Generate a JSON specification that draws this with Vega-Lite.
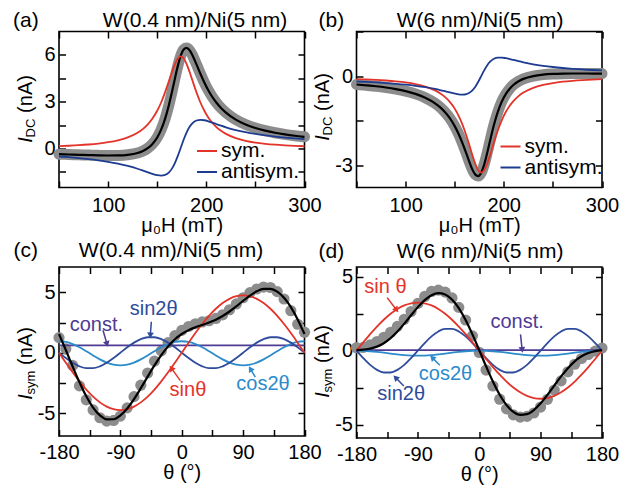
{
  "$schema": "https://vega.github.io/schema/vega-lite/v6.json",
  "background": "white",
  "padding": {"left": 12, "top": 8.5, "right": 0, "bottom": 0},
  "columns": 2,
  "spacing": {"row": 79.5, "column": 51.5},
  "bounds": "flush",
  "resolve": {"scale": {"color": "independent"}, "legend": {"color": "independent"}},
  "datasets": {
    "a": [
      {"H":50,"sym":0.15,"antisym":-0.513,"total":-0.363},
      {"H":60,"sym":0.176,"antisym":-0.559,"total":-0.383},
      {"H":70,"sym":0.21,"antisym":-0.614,"total":-0.404},
      {"H":80,"sym":0.256,"antisym":-0.679,"total":-0.423},
      {"H":90,"sym":0.317,"antisym":-0.757,"total":-0.44},
      {"H":100,"sym":0.402,"antisym":-0.852,"total":-0.45},
      {"H":110,"sym":0.525,"antisym":-0.969,"total":-0.444},
      {"H":120,"sym":0.712,"antisym":-1.116,"total":-0.404},
      {"H":130,"sym":1.01,"antisym":-1.299,"total":-0.289},
      {"H":135,"sym":1.229,"antisym":-1.404,"total":-0.175},
      {"H":140,"sym":1.517,"antisym":-1.515,"total":0.002},
      {"H":145,"sym":1.902,"antisym":-1.623,"total":0.279},
      {"H":150,"sym":2.418,"antisym":-1.711,"total":0.707},
      {"H":154,"sym":2.95,"antisym":-1.74,"total":1.21},
      {"H":158,"sym":3.598,"antisym":-1.696,"total":1.902},
      {"H":162,"sym":4.338,"antisym":-1.529,"total":2.809},
      {"H":165,"sym":4.906,"antisym":-1.29,"total":3.616},
      {"H":168,"sym":5.413,"antisym":-0.935,"total":4.478},
      {"H":171,"sym":5.77,"antisym":-0.475,"total":5.295},
      {"H":174,"sym":5.9,"antisym":0.05,"total":5.95},
      {"H":177,"sym":5.77,"antisym":0.575,"total":6.345},
      {"H":180,"sym":5.413,"antisym":1.035,"total":6.448},
      {"H":183,"sym":4.906,"antisym":1.39,"total":6.296},
      {"H":186,"sym":4.338,"antisym":1.629,"total":5.967},
      {"H":190,"sym":3.598,"antisym":1.796,"total":5.394},
      {"H":194,"sym":2.95,"antisym":1.84,"total":4.79},
      {"H":198,"sym":2.418,"antisym":1.811,"total":4.229},
      {"H":202,"sym":1.993,"antisym":1.743,"total":3.736},
      {"H":206,"sym":1.657,"antisym":1.659,"total":3.316},
      {"H":210,"sym":1.392,"antisym":1.57,"total":2.962},
      {"H":215,"sym":1.134,"antisym":1.461,"total":2.595},
      {"H":220,"sym":0.938,"antisym":1.359,"total":2.297},
      {"H":230,"sym":0.667,"antisym":1.184,"total":1.851},
      {"H":240,"sym":0.496,"antisym":1.044,"total":1.54},
      {"H":250,"sym":0.382,"antisym":0.931,"total":1.313},
      {"H":260,"sym":0.303,"antisym":0.84,"total":1.143},
      {"H":270,"sym":0.245,"antisym":0.765,"total":1.01},
      {"H":280,"sym":0.203,"antisym":0.702,"total":0.905},
      {"H":290,"sym":0.17,"antisym":0.649,"total":0.819},
      {"H":300,"sym":0.145,"antisym":0.604,"total":0.749}
    ],
    "b": [
      {"H":50,"sym":-0.1,"antisym":-0.183,"total":-0.283},
      {"H":60,"sym":-0.113,"antisym":-0.198,"total":-0.311},
      {"H":70,"sym":-0.128,"antisym":-0.215,"total":-0.343},
      {"H":80,"sym":-0.149,"antisym":-0.236,"total":-0.385},
      {"H":90,"sym":-0.177,"antisym":-0.261,"total":-0.438},
      {"H":100,"sym":-0.215,"antisym":-0.291,"total":-0.506},
      {"H":110,"sym":-0.27,"antisym":-0.328,"total":-0.598},
      {"H":120,"sym":-0.352,"antisym":-0.375,"total":-0.727},
      {"H":130,"sym":-0.482,"antisym":-0.434,"total":-0.916},
      {"H":135,"sym":-0.577,"antisym":-0.469,"total":-1.046},
      {"H":140,"sym":-0.702,"antisym":-0.508,"total":-1.21},
      {"H":145,"sym":-0.869,"antisym":-0.549,"total":-1.418},
      {"H":150,"sym":-1.096,"antisym":-0.588,"total":-1.684},
      {"H":154,"sym":-1.336,"antisym":-0.614,"total":-1.95},
      {"H":158,"sym":-1.64,"antisym":-0.625,"total":-2.265},
      {"H":162,"sym":-2.014,"antisym":-0.608,"total":-2.622},
      {"H":165,"sym":-2.332,"antisym":-0.564,"total":-2.896},
      {"H":168,"sym":-2.66,"antisym":-0.484,"total":-3.144},
      {"H":171,"sym":-2.958,"antisym":-0.359,"total":-3.317},
      {"H":174,"sym":-3.172,"antisym":-0.193,"total":-3.365},
      {"H":177,"sym":-3.25,"antisym":0,"total":-3.25},
      {"H":180,"sym":-3.172,"antisym":0.193,"total":-2.979},
      {"H":183,"sym":-2.958,"antisym":0.359,"total":-2.599},
      {"H":186,"sym":-2.66,"antisym":0.484,"total":-2.176},
      {"H":190,"sym":-2.223,"antisym":0.583,"total":-1.64},
      {"H":194,"sym":-1.818,"antisym":0.621,"total":-1.197},
      {"H":198,"sym":-1.479,"antisym":0.622,"total":-0.857},
      {"H":202,"sym":-1.209,"antisym":0.602,"total":-0.607},
      {"H":206,"sym":-0.997,"antisym":0.573,"total":-0.424},
      {"H":210,"sym":-0.832,"antisym":0.541,"total":-0.291},
      {"H":215,"sym":-0.674,"antisym":0.5,"total":-0.174},
      {"H":220,"sym":-0.556,"antisym":0.462,"total":-0.094},
      {"H":230,"sym":-0.397,"antisym":0.397,"total":0},
      {"H":240,"sym":-0.298,"antisym":0.346,"total":0.048},
      {"H":250,"sym":-0.234,"antisym":0.305,"total":0.071},
      {"H":260,"sym":-0.19,"antisym":0.272,"total":0.082},
      {"H":270,"sym":-0.159,"antisym":0.245,"total":0.086},
      {"H":280,"sym":-0.136,"antisym":0.223,"total":0.087},
      {"H":290,"sym":-0.119,"antisym":0.204,"total":0.085},
      {"H":300,"sym":-0.105,"antisym":0.189,"total":0.084}
    ],
    "c": [
      {"t":-180,"sin1":0,"sin2":0,"cos2":0.95,"k":0.6,"fit":1.55,"obs":1.25},
      {"t":-170,"sin1":-0.825,"sin2":-0.445,"cos2":0.89,"k":0.6,"fit":0.22,"obs":0.32},
      {"t":-160,"sin1":-1.625,"sin2":-0.836,"cos2":0.716,"k":0.6,"fit":-1.145,"obs":-1.05},
      {"t":-150,"sin1":-2.375,"sin2":-1.126,"cos2":0.45,"k":0.6,"fit":-2.451,"obs":-2.75},
      {"t":-140,"sin1":-3.053,"sin2":-1.28,"cos2":0.124,"k":0.6,"fit":-3.609,"obs":-3.9},
      {"t":-130,"sin1":-3.639,"sin2":-1.28,"cos2":-0.224,"k":0.6,"fit":-4.543,"obs":-4.74},
      {"t":-120,"sin1":-4.114,"sin2":-1.126,"cos2":-0.55,"k":0.6,"fit":-5.19,"obs":-5.39},
      {"t":-110,"sin1":-4.464,"sin2":-0.836,"cos2":-0.816,"k":0.6,"fit":-5.516,"obs":-5.67},
      {"t":-100,"sin1":-4.678,"sin2":-0.445,"cos2":-0.99,"k":0.6,"fit":-5.513,"obs":-5.61},
      {"t":-90,"sin1":-4.75,"sin2":0,"cos2":-1.05,"k":0.6,"fit":-5.2,"obs":-5.25},
      {"t":-80,"sin1":-4.678,"sin2":0.445,"cos2":-0.99,"k":0.6,"fit":-4.623,"obs":-4.57},
      {"t":-70,"sin1":-4.464,"sin2":0.836,"cos2":-0.816,"k":0.6,"fit":-3.844,"obs":-3.64},
      {"t":-60,"sin1":-4.114,"sin2":1.126,"cos2":-0.55,"k":0.6,"fit":-2.938,"obs":-2.69},
      {"t":-50,"sin1":-3.639,"sin2":1.28,"cos2":-0.224,"k":0.6,"fit":-1.983,"obs":-1.68},
      {"t":-40,"sin1":-3.053,"sin2":1.28,"cos2":0.124,"k":0.6,"fit":-1.049,"obs":-0.7},
      {"t":-30,"sin1":-2.375,"sin2":1.126,"cos2":0.45,"k":0.6,"fit":-0.199,"obs":0.15},
      {"t":-20,"sin1":-1.625,"sin2":0.836,"cos2":0.716,"k":0.6,"fit":0.527,"obs":0.83},
      {"t":-10,"sin1":-0.825,"sin2":0.445,"cos2":0.89,"k":0.6,"fit":1.11,"obs":1.41},
      {"t":0,"sin1":0,"sin2":0,"cos2":0.95,"k":0.6,"fit":1.55,"obs":1.85},
      {"t":10,"sin1":0.825,"sin2":-0.445,"cos2":0.89,"k":0.6,"fit":1.87,"obs":2.17},
      {"t":20,"sin1":1.625,"sin2":-0.836,"cos2":0.716,"k":0.6,"fit":2.105,"obs":2.4},
      {"t":30,"sin1":2.375,"sin2":-1.126,"cos2":0.45,"k":0.6,"fit":2.299,"obs":2.55},
      {"t":40,"sin1":3.053,"sin2":-1.28,"cos2":0.124,"k":0.6,"fit":2.497,"obs":2.65},
      {"t":50,"sin1":3.639,"sin2":-1.28,"cos2":-0.224,"k":0.6,"fit":2.735,"obs":2.84},
      {"t":60,"sin1":4.114,"sin2":-1.126,"cos2":-0.55,"k":0.6,"fit":3.038,"obs":3.14},
      {"t":70,"sin1":4.464,"sin2":-0.836,"cos2":-0.816,"k":0.6,"fit":3.412,"obs":3.56},
      {"t":80,"sin1":4.678,"sin2":-0.445,"cos2":-0.99,"k":0.6,"fit":3.843,"obs":4.04},
      {"t":90,"sin1":4.75,"sin2":0,"cos2":-1.05,"k":0.6,"fit":4.3,"obs":4.55},
      {"t":100,"sin1":4.678,"sin2":0.445,"cos2":-0.99,"k":0.6,"fit":4.733,"obs":4.98},
      {"t":110,"sin1":4.464,"sin2":0.836,"cos2":-0.816,"k":0.6,"fit":5.084,"obs":5.28},
      {"t":120,"sin1":4.114,"sin2":1.126,"cos2":-0.55,"k":0.6,"fit":5.29,"obs":5.44},
      {"t":130,"sin1":3.639,"sin2":1.28,"cos2":-0.224,"k":0.6,"fit":5.295,"obs":5.4},
      {"t":140,"sin1":3.053,"sin2":1.28,"cos2":0.124,"k":0.6,"fit":5.057,"obs":5.06},
      {"t":150,"sin1":2.375,"sin2":1.126,"cos2":0.45,"k":0.6,"fit":4.551,"obs":4.45},
      {"t":160,"sin1":1.625,"sin2":0.836,"cos2":0.716,"k":0.6,"fit":3.777,"obs":3.48},
      {"t":170,"sin1":0.825,"sin2":0.445,"cos2":0.89,"k":0.6,"fit":2.76,"obs":2.36},
      {"t":180,"sin1":0,"sin2":0,"cos2":0.95,"k":0.6,"fit":1.55,"obs":1.7}
    ],
    "d": [
      {"t":-180,"sin1":0,"sin2":0,"cos2":0,"k":0.03,"fit":0.03,"obs":0.2},
      {"t":-170,"sin1":0.564,"sin2":-0.513,"cos2":-0.01,"k":0.03,"fit":0.071,"obs":0.22},
      {"t":-160,"sin1":1.112,"sin2":-0.964,"cos2":-0.04,"k":0.03,"fit":0.138,"obs":0.39},
      {"t":-150,"sin1":1.625,"sin2":-1.299,"cos2":-0.085,"k":0.03,"fit":0.271,"obs":0.62},
      {"t":-140,"sin1":2.089,"sin2":-1.477,"cos2":-0.14,"k":0.03,"fit":0.502,"obs":0.9},
      {"t":-130,"sin1":2.49,"sin2":-1.477,"cos2":-0.2,"k":0.03,"fit":0.843,"obs":1.24},
      {"t":-120,"sin1":2.815,"sin2":-1.299,"cos2":-0.255,"k":0.03,"fit":1.291,"obs":1.64},
      {"t":-110,"sin1":3.054,"sin2":-0.964,"cos2":-0.3,"k":0.03,"fit":1.82,"obs":2.12},
      {"t":-100,"sin1":3.201,"sin2":-0.513,"cos2":-0.33,"k":0.03,"fit":2.388,"obs":2.64},
      {"t":-90,"sin1":3.25,"sin2":0,"cos2":-0.34,"k":0.03,"fit":2.94,"obs":3.19},
      {"t":-80,"sin1":3.201,"sin2":0.513,"cos2":-0.33,"k":0.03,"fit":3.414,"obs":3.66},
      {"t":-70,"sin1":3.054,"sin2":0.964,"cos2":-0.3,"k":0.03,"fit":3.748,"obs":4.0},
      {"t":-60,"sin1":2.815,"sin2":1.299,"cos2":-0.255,"k":0.03,"fit":3.889,"obs":4.09},
      {"t":-50,"sin1":2.49,"sin2":1.477,"cos2":-0.2,"k":0.03,"fit":3.797,"obs":3.95},
      {"t":-40,"sin1":2.089,"sin2":1.477,"cos2":-0.14,"k":0.03,"fit":3.456,"obs":3.56},
      {"t":-30,"sin1":1.625,"sin2":1.299,"cos2":-0.085,"k":0.03,"fit":2.869,"obs":2.92},
      {"t":-20,"sin1":1.112,"sin2":0.964,"cos2":-0.04,"k":0.03,"fit":2.066,"obs":2.07},
      {"t":-10,"sin1":0.564,"sin2":0.513,"cos2":-0.01,"k":0.03,"fit":1.097,"obs":1.0},
      {"t":0,"sin1":0,"sin2":0,"cos2":0,"k":0.03,"fit":0.03,"obs":-0.12},
      {"t":10,"sin1":-0.564,"sin2":-0.513,"cos2":-0.01,"k":0.03,"fit":-1.057,"obs":-1.31},
      {"t":20,"sin1":-1.112,"sin2":-0.964,"cos2":-0.04,"k":0.03,"fit":-2.086,"obs":-2.39},
      {"t":30,"sin1":-1.625,"sin2":-1.299,"cos2":-0.085,"k":0.03,"fit":-2.979,"obs":-3.28},
      {"t":40,"sin1":-2.089,"sin2":-1.477,"cos2":-0.14,"k":0.03,"fit":-3.676,"obs":-3.93},
      {"t":50,"sin1":-2.49,"sin2":-1.477,"cos2":-0.2,"k":0.03,"fit":-4.137,"obs":-4.34},
      {"t":60,"sin1":-2.815,"sin2":-1.299,"cos2":-0.255,"k":0.03,"fit":-4.339,"obs":-4.49},
      {"t":70,"sin1":-3.054,"sin2":-0.964,"cos2":-0.3,"k":0.03,"fit":-4.288,"obs":-4.44},
      {"t":80,"sin1":-3.201,"sin2":-0.513,"cos2":-0.33,"k":0.03,"fit":-4.014,"obs":-4.21},
      {"t":90,"sin1":-3.25,"sin2":0,"cos2":-0.34,"k":0.03,"fit":-3.56,"obs":-3.81},
      {"t":100,"sin1":-3.201,"sin2":0.513,"cos2":-0.33,"k":0.03,"fit":-2.988,"obs":-3.29},
      {"t":110,"sin1":-3.054,"sin2":0.964,"cos2":-0.3,"k":0.03,"fit":-2.36,"obs":-2.66},
      {"t":120,"sin1":-2.815,"sin2":1.299,"cos2":-0.255,"k":0.03,"fit":-1.741,"obs":-2.04},
      {"t":130,"sin1":-2.49,"sin2":1.477,"cos2":-0.2,"k":0.03,"fit":-1.183,"obs":-1.43},
      {"t":140,"sin1":-2.089,"sin2":1.477,"cos2":-0.14,"k":0.03,"fit":-0.722,"obs":-0.92},
      {"t":150,"sin1":-1.625,"sin2":1.299,"cos2":-0.085,"k":0.03,"fit":-0.381,"obs":-0.53},
      {"t":160,"sin1":-1.112,"sin2":0.964,"cos2":-0.04,"k":0.03,"fit":-0.158,"obs":-0.26},
      {"t":170,"sin1":-0.564,"sin2":0.513,"cos2":-0.01,"k":0.03,"fit":-0.031,"obs":-0.03},
      {"t":180,"sin1":0,"sin2":0,"cos2":0,"k":0.03,"fit":0.03,"obs":0.18}
    ],
    "annc": [
      {"label":"const.","x":-125.3,"y":2.33},
      {"label":"sin2θ","x":-41.2,"y":3.61},
      {"label":"sinθ","x":9.1,"y":-3.06},
      {"label":"cos2θ","x":119.1,"y":-2.58}
    ],
    "arrc": [
      {"label":"const.","x":-115.5,"y":1.86,"x2":-109.6,"y2":0.72},
      {"label":"sin2θ","x":-44.6,"y":2.56,"x2":-46.1,"y2":1.44},
      {"label":"sinθ","x":-2.1,"y":-2.31,"x2":-15.3,"y2":-1.28},
      {"label":"cos2θ","x":107.9,"y":-2.03,"x2":100.6,"y2":-1.33}
    ],
    "annd": [
      {"label":"sin θ","x":-137.5,"y":4.32},
      {"label":"const.","x":55.6,"y":1.94},
      {"label":"cos2θ","x":-49.5,"y":-1.55},
      {"label":"sin2θ","x":-114.5,"y":-2.95}
    ],
    "arrd": [
      {"label":"sin θ","x":-135,"y":3.58,"x2":-121.3,"y2":2.75},
      {"label":"const.","x":60.5,"y":1.1,"x2":62.9,"y2":0.05},
      {"label":"cos2θ","x":-57.8,"y":-0.99,"x2":-69,"y2":-0.47},
      {"label":"sin2θ","x":-110.6,"y":-2.39,"x2":-122.8,"y2":-1.82}
    ]
  },
  "concat": [
    {
      "width": 245.5, "height": 156,
      "title": {"text": "(a)\u00a0\u00a0\u00a0\u00a0\u00a0\u00a0\u00a0\u00a0\u00a0\u00a0\u00a0W(0.4 nm)/Ni(5 nm)", "dx": -46, "offset": 0},
      "data": {"name": "a"},
      "layer": [
        {"mark": {"type": "line", "color": "#8c8c8c", "strokeWidth": 11, "strokeCap": "round", "strokeJoin": "round", "interpolate": "monotone"},
         "encoding": {
           "x": {"field": "H", "type": "quantitative", "scale": {"domain": [50, 300], "nice": false, "zero": false},
                 "axis": {"orient": "bottom", "values": [50,100,150,200,250,300], "labelExpr": "datum.value % 100 == 0 ? '' + datum.value : ''", "labelPadding": 14, "title": "μ₀H (mT)", "titlePadding": 0}},
           "y": {"field": "total", "type": "quantitative", "scale": {"domain": [-2.5, 7.5], "nice": false, "zero": false},
                 "axis": {"orient": "left", "values": [-1.5,0,1.5,3,4.5,6], "labelExpr": "(datum.value == 0 || datum.value == 3 || datum.value == 6) ? '' + datum.value : ''", "labelFontSize": {"condition": {"test": "datum.value == 0 || datum.value == 3 || datum.value == 6", "value": 20}, "value": 0}, "labelOverlap": false, "labelBound": false, "labelPadding": 10.5, "title": "(nA)", "titleX": -28, "titleY": 62, "titleAngle": 270, "titleAlign": "center", "titleBaseline": "alphabetic"}}
         }},
        {"mark": {"type": "line", "color": "black", "strokeWidth": 2.2, "interpolate": "monotone"},
         "encoding": {
           "x": {"field": "H", "type": "quantitative", "axis": {"orient": "top", "values": [50,100,150,200,250,300], "labels": false, "title": "I", "titleFontStyle": "italic", "titleX": -28, "titleY": 108, "titleAngle": 270, "titleAlign": "center", "titleBaseline": "alphabetic"}},
           "y": {"field": "total", "type": "quantitative", "axis": {"orient": "right", "values": [-1.5,0,1.5,3,4.5,6], "labels": false, "title": "DC", "titleFontSize": 13, "titleX": -270.5, "titleY": 96, "titleAngle": 270, "titleAlign": "center", "titleBaseline": "alphabetic"}}
         }},
        {"transform": [{"fold": ["sym", "antisym"], "as": ["comp", "val"]}],
         "mark": {"type": "line", "strokeWidth": 1.8, "interpolate": "monotone"},
         "encoding": {
           "x": {"field": "H", "type": "quantitative", "axis": null},
           "y": {"field": "val", "type": "quantitative", "axis": null},
           "color": {"field": "comp", "type": "nominal", "scale": {"domain": ["sym", "antisym"], "range": ["#e3342a", "#1d3c91"]},
                     "legend": {"orient": "none", "legendX": 137, "legendY": 108.5, "title": null, "symbolType": "stroke", "symbolSize": 400, "symbolStrokeWidth": 2, "labelFontSize": 21, "labelColor": "black", "labelExpr": "datum.label + '.'", "rowPadding": 0, "labelOffset": 3, "padding": 0}}
         }}
      ],
      "resolve": {"axis": {"x": "independent", "y": "independent"}}
    },
    {
      "width": 245.5, "height": 156,
      "title": {"text": "(b)\u00a0\u00a0\u00a0\u00a0\u00a0\u00a0\u00a0\u00a0\u00a0W(6 nm)/Ni(5 nm)", "dx": -38, "offset": 0},
      "data": {"name": "b"},
      "layer": [
        {"mark": {"type": "line", "color": "#8c8c8c", "strokeWidth": 11, "strokeCap": "round", "strokeJoin": "round", "interpolate": "monotone"},
         "encoding": {
           "x": {"field": "H", "type": "quantitative", "scale": {"domain": [50, 300], "nice": false, "zero": false},
                 "axis": {"orient": "bottom", "values": [50,100,150,200,250,300], "labelExpr": "datum.value % 100 == 0 ? '' + datum.value : ''", "labelPadding": 14, "title": "μ₀H (mT)", "titlePadding": 0}},
           "y": {"field": "total", "type": "quantitative", "scale": {"domain": [-3.75, 1.5], "nice": false, "zero": false},
                 "axis": {"orient": "left", "values": [-3,-1.5,0,1.5], "labelExpr": "(datum.value == 0 || datum.value == -3) ? '' + datum.value : ''", "labelFontSize": {"condition": {"test": "datum.value == 0 || datum.value == -3", "value": 20}, "value": 0}, "labelOverlap": false, "labelBound": false, "labelPadding": 10.5, "title": "(nA)", "titleX": -28, "titleY": 60, "titleAngle": 270, "titleAlign": "center", "titleBaseline": "alphabetic"}}
         }},
        {"mark": {"type": "line", "color": "black", "strokeWidth": 2.2, "interpolate": "monotone"},
         "encoding": {
           "x": {"field": "H", "type": "quantitative", "axis": {"orient": "top", "values": [50,100,150,200,250,300], "labels": false, "title": "I", "titleFontStyle": "italic", "titleX": -28, "titleY": 106, "titleAngle": 270, "titleAlign": "center", "titleBaseline": "alphabetic"}},
           "y": {"field": "total", "type": "quantitative", "axis": {"orient": "right", "values": [-3,-1.5,0,1.5], "labels": false, "title": "DC", "titleFontSize": 13, "titleX": -270.5, "titleY": 94, "titleAngle": 270, "titleAlign": "center", "titleBaseline": "alphabetic"}}
         }},
        {"transform": [{"fold": ["sym", "antisym"], "as": ["comp", "val"]}],
         "mark": {"type": "line", "strokeWidth": 1.8, "interpolate": "monotone"},
         "encoding": {
           "x": {"field": "H", "type": "quantitative", "axis": null},
           "y": {"field": "val", "type": "quantitative", "axis": null},
           "color": {"field": "comp", "type": "nominal", "scale": {"domain": ["sym", "antisym"], "range": ["#e3342a", "#1d3c91"]},
                     "legend": {"orient": "none", "legendX": 143, "legendY": 104, "title": null, "symbolType": "stroke", "symbolSize": 400, "symbolStrokeWidth": 2, "labelFontSize": 21, "labelColor": "black", "labelExpr": "datum.label + '.'", "rowPadding": 0, "labelOffset": 3, "padding": 0}}
         }}
      ],
      "resolve": {"axis": {"x": "independent", "y": "independent"}}
    },
    {
      "width": 245.5, "height": 169,
      "title": {"text": "(c)\u00a0\u00a0\u00a0\u00a0\u00a0\u00a0\u00a0W(0.4 nm)/Ni(5 nm)", "dx": -45.5, "offset": 5},
      "data": {"name": "c"},
      "layer": [
        {"mark": {"type": "point", "filled": true, "color": "#8c8c8c", "opacity": 1, "size": 125},
         "encoding": {
           "x": {"field": "t", "type": "quantitative", "scale": {"domain": [-180, 180], "nice": false, "zero": false},
                 "axis": {"orient": "bottom", "values": [-180,-135,-90,-45,0,45,90,135,180], "labelExpr": "datum.value % 90 == 0 ? '' + datum.value : ''", "labelPadding": 12.5, "title": "θ (°)", "titlePadding": 0}},
           "y": {"field": "obs", "type": "quantitative", "scale": {"domain": [-6.9, 7.1], "nice": false, "zero": false},
                 "axis": {"orient": "left", "values": [-5,-2.5,0,2.5,5], "labelExpr": "datum.value % 5 == 0 ? '' + datum.value : ''", "labelOverlap": false, "labelPadding": 10.5, "title": "(nA)", "titleX": -28, "titleY": 78.5, "titleAngle": 270, "titleAlign": "center", "titleBaseline": "alphabetic"}}
         }},
        {"mark": {"type": "line", "color": "#4f3a94", "strokeWidth": 1.8},
         "encoding": {"x": {"field": "t", "type": "quantitative", "axis": null}, "y": {"field": "k", "type": "quantitative", "axis": null}}},
        {"mark": {"type": "line", "color": "#2b8bcb", "strokeWidth": 1.8, "interpolate": "monotone"},
         "encoding": {"x": {"field": "t", "type": "quantitative", "axis": null}, "y": {"field": "cos2", "type": "quantitative", "axis": null}}},
        {"mark": {"type": "line", "color": "#2f4c9c", "strokeWidth": 1.8, "interpolate": "monotone"},
         "encoding": {"x": {"field": "t", "type": "quantitative", "axis": null}, "y": {"field": "sin2", "type": "quantitative", "axis": null}}},
        {"mark": {"type": "line", "color": "#e3342a", "strokeWidth": 1.8, "interpolate": "monotone"},
         "encoding": {"x": {"field": "t", "type": "quantitative", "axis": null}, "y": {"field": "sin1", "type": "quantitative", "axis": null}}},
        {"mark": {"type": "line", "color": "black", "strokeWidth": 2.2, "interpolate": "monotone"},
         "encoding": {
           "x": {"field": "t", "type": "quantitative", "axis": {"orient": "top", "values": [-180,-135,-90,-45,0,45,90,135,180], "labels": false, "title": "I", "titleFontStyle": "italic", "titleX": -28, "titleY": 129.5, "titleAngle": 270, "titleAlign": "center", "titleBaseline": "alphabetic"}},
           "y": {"field": "fit", "type": "quantitative", "axis": {"orient": "right", "values": [-5,-2.5,0,2.5,5], "labels": false, "title": "sym", "titleFontSize": 13, "titleX": -270.5, "titleY": 115, "titleAngle": 270, "titleAlign": "center", "titleBaseline": "alphabetic"}}
         }},
        {"data": {"name": "arrc"}, "mark": {"type": "rule", "strokeWidth": 1.5},
         "encoding": {"x": {"field": "x", "type": "quantitative", "axis": null}, "y": {"field": "y", "type": "quantitative", "axis": null}, "x2": {"field": "x2"}, "y2": {"field": "y2"},
                      "color": {"field": "label", "type": "nominal", "scale": {"domain": ["const.", "sin2θ", "sinθ", "cos2θ"], "range": ["#4f3a94", "#2f4c9c", "#e3342a", "#2b8bcb"]}, "legend": null}}},
        {"data": {"name": "arrc"}, "transform": [{"filter": "datum.label == 'const.'"}], "mark": {"type": "point", "shape": "triangle-up", "filled": true, "opacity": 1, "size": 45, "angle": 164},
         "encoding": {"x": {"field": "x2", "type": "quantitative", "axis": null}, "y": {"field": "y2", "type": "quantitative", "axis": null}, "color": {"field": "label", "type": "nominal", "legend": null}}},
        {"data": {"name": "arrc"}, "transform": [{"filter": "datum.label == 'sin2θ'"}], "mark": {"type": "point", "shape": "triangle-up", "filled": true, "opacity": 1, "size": 45, "angle": 184},
         "encoding": {"x": {"field": "x2", "type": "quantitative", "axis": null}, "y": {"field": "y2", "type": "quantitative", "axis": null}, "color": {"field": "label", "type": "nominal", "legend": null}}},
        {"data": {"name": "arrc"}, "transform": [{"filter": "datum.label == 'sinθ'"}], "mark": {"type": "point", "shape": "triangle-up", "filled": true, "opacity": 1, "size": 45, "angle": 324},
         "encoding": {"x": {"field": "x2", "type": "quantitative", "axis": null}, "y": {"field": "y2", "type": "quantitative", "axis": null}, "color": {"field": "label", "type": "nominal", "legend": null}}},
        {"data": {"name": "arrc"}, "transform": [{"filter": "datum.label == 'cos2θ'"}], "mark": {"type": "point", "shape": "triangle-up", "filled": true, "opacity": 1, "size": 45, "angle": 329},
         "encoding": {"x": {"field": "x2", "type": "quantitative", "axis": null}, "y": {"field": "y2", "type": "quantitative", "axis": null}, "color": {"field": "label", "type": "nominal", "legend": null}}},
        {"data": {"name": "annc"}, "mark": {"type": "text", "fontSize": 20, "align": "center", "baseline": "middle"},
         "encoding": {"x": {"field": "x", "type": "quantitative", "axis": null}, "y": {"field": "y", "type": "quantitative", "axis": null}, "text": {"field": "label"}, "color": {"field": "label", "type": "nominal", "legend": null}}}
      ],
      "resolve": {"axis": {"x": "independent", "y": "independent"}}
    },
    {
      "width": 245.5, "height": 171,
      "title": {"text": "(d)\u00a0\u00a0\u00a0\u00a0\u00a0\u00a0\u00a0\u00a0\u00a0W(6 nm)/Ni(5 nm)", "dx": -38, "offset": 4.5},
      "data": {"name": "d"},
      "layer": [
        {"mark": {"type": "point", "filled": true, "color": "#8c8c8c", "opacity": 1, "size": 125},
         "encoding": {
           "x": {"field": "t", "type": "quantitative", "scale": {"domain": [-180, 180], "nice": false, "zero": false},
                 "axis": {"orient": "bottom", "values": [-180,-135,-90,-45,0,45,90,135,180], "labelExpr": "datum.value % 90 == 0 ? '' + datum.value : ''", "labelPadding": 12.5, "title": "θ (°)", "titlePadding": 0}},
           "y": {"field": "obs", "type": "quantitative", "scale": {"domain": [-5.9, 5.65], "nice": false, "zero": false},
                 "axis": {"orient": "left", "values": [-5,-2.5,0,2.5,5], "labelExpr": "datum.value % 5 == 0 ? '' + datum.value : ''", "labelOverlap": false, "labelPadding": 10.5, "title": "(nA)", "titleX": -28, "titleY": 76.5, "titleAngle": 270, "titleAlign": "center", "titleBaseline": "alphabetic"}}
         }},
        {"mark": {"type": "line", "color": "#4f3a94", "strokeWidth": 1.8},
         "encoding": {"x": {"field": "t", "type": "quantitative", "axis": null}, "y": {"field": "k", "type": "quantitative", "axis": null}}},
        {"mark": {"type": "line", "color": "#2b8bcb", "strokeWidth": 1.8, "interpolate": "monotone"},
         "encoding": {"x": {"field": "t", "type": "quantitative", "axis": null}, "y": {"field": "cos2", "type": "quantitative", "axis": null}}},
        {"mark": {"type": "line", "color": "#2f4c9c", "strokeWidth": 1.8, "interpolate": "monotone"},
         "encoding": {"x": {"field": "t", "type": "quantitative", "axis": null}, "y": {"field": "sin2", "type": "quantitative", "axis": null}}},
        {"mark": {"type": "line", "color": "#e3342a", "strokeWidth": 1.8, "interpolate": "monotone"},
         "encoding": {"x": {"field": "t", "type": "quantitative", "axis": null}, "y": {"field": "sin1", "type": "quantitative", "axis": null}}},
        {"mark": {"type": "line", "color": "black", "strokeWidth": 2.2, "interpolate": "monotone"},
         "encoding": {
           "x": {"field": "t", "type": "quantitative", "axis": {"orient": "top", "values": [-180,-135,-90,-45,0,45,90,135,180], "labels": false, "title": "I", "titleFontStyle": "italic", "titleX": -28, "titleY": 127.5, "titleAngle": 270, "titleAlign": "center", "titleBaseline": "alphabetic"}},
           "y": {"field": "fit", "type": "quantitative", "axis": {"orient": "right", "values": [-5,-2.5,0,2.5,5], "labels": false, "title": "sym", "titleFontSize": 13, "titleX": -270.5, "titleY": 113, "titleAngle": 270, "titleAlign": "center", "titleBaseline": "alphabetic"}}
         }},
        {"data": {"name": "arrd"}, "mark": {"type": "rule", "strokeWidth": 1.5},
         "encoding": {"x": {"field": "x", "type": "quantitative", "axis": null}, "y": {"field": "y", "type": "quantitative", "axis": null}, "x2": {"field": "x2"}, "y2": {"field": "y2"},
                      "color": {"field": "label", "type": "nominal", "scale": {"domain": ["const.", "sin2θ", "sin θ", "cos2θ"], "range": ["#4f3a94", "#2f4c9c", "#e3342a", "#2b8bcb"]}, "legend": null}}},
        {"data": {"name": "arrd"}, "transform": [{"filter": "datum.label == 'sin θ'"}], "mark": {"type": "point", "shape": "triangle-up", "filled": true, "opacity": 1, "size": 45, "angle": 143},
         "encoding": {"x": {"field": "x2", "type": "quantitative", "axis": null}, "y": {"field": "y2", "type": "quantitative", "axis": null}, "color": {"field": "label", "type": "nominal", "legend": null}}},
        {"data": {"name": "arrd"}, "transform": [{"filter": "datum.label == 'const.'"}], "mark": {"type": "point", "shape": "triangle-up", "filled": true, "opacity": 1, "size": 45, "angle": 174},
         "encoding": {"x": {"field": "x2", "type": "quantitative", "axis": null}, "y": {"field": "y2", "type": "quantitative", "axis": null}, "color": {"field": "label", "type": "nominal", "legend": null}}},
        {"data": {"name": "arrd"}, "transform": [{"filter": "datum.label == 'cos2θ' || datum.label == 'sin2θ'"}], "mark": {"type": "point", "shape": "triangle-up", "filled": true, "opacity": 1, "size": 45, "angle": 315},
         "encoding": {"x": {"field": "x2", "type": "quantitative", "axis": null}, "y": {"field": "y2", "type": "quantitative", "axis": null}, "color": {"field": "label", "type": "nominal", "legend": null}}},
        {"data": {"name": "annd"}, "mark": {"type": "text", "fontSize": 20, "align": "center", "baseline": "middle"},
         "encoding": {"x": {"field": "x", "type": "quantitative", "axis": null}, "y": {"field": "y", "type": "quantitative", "axis": null}, "text": {"field": "label"}, "color": {"field": "label", "type": "nominal", "legend": null}}}
      ],
      "resolve": {"axis": {"x": "independent", "y": "independent"}}
    }
  ],
  "config": {
    "font": "Liberation Sans",
    "view": {"stroke": "black", "strokeWidth": 1.6},
    "axis": {"domain": false, "grid": false, "ticks": true, "tickSize": -6.5, "tickWidth": 1.5, "tickColor": "black",
             "labelFont": "Liberation Sans", "labelFontSize": 20, "labelColor": "black", "labelFlush": false, "labelOverlap": false,
             "titleFont": "Liberation Sans", "titleFontSize": 20, "titleFontWeight": "normal", "titleColor": "black"},
    "title": {"font": "Liberation Sans", "fontSize": 21, "fontWeight": "normal", "color": "black", "anchor": "start", "frame": "group", "baseline": "alphabetic"},
    "text": {"font": "Liberation Sans"},
    "legend": {"labelFont": "Liberation Sans"}
  }
}
